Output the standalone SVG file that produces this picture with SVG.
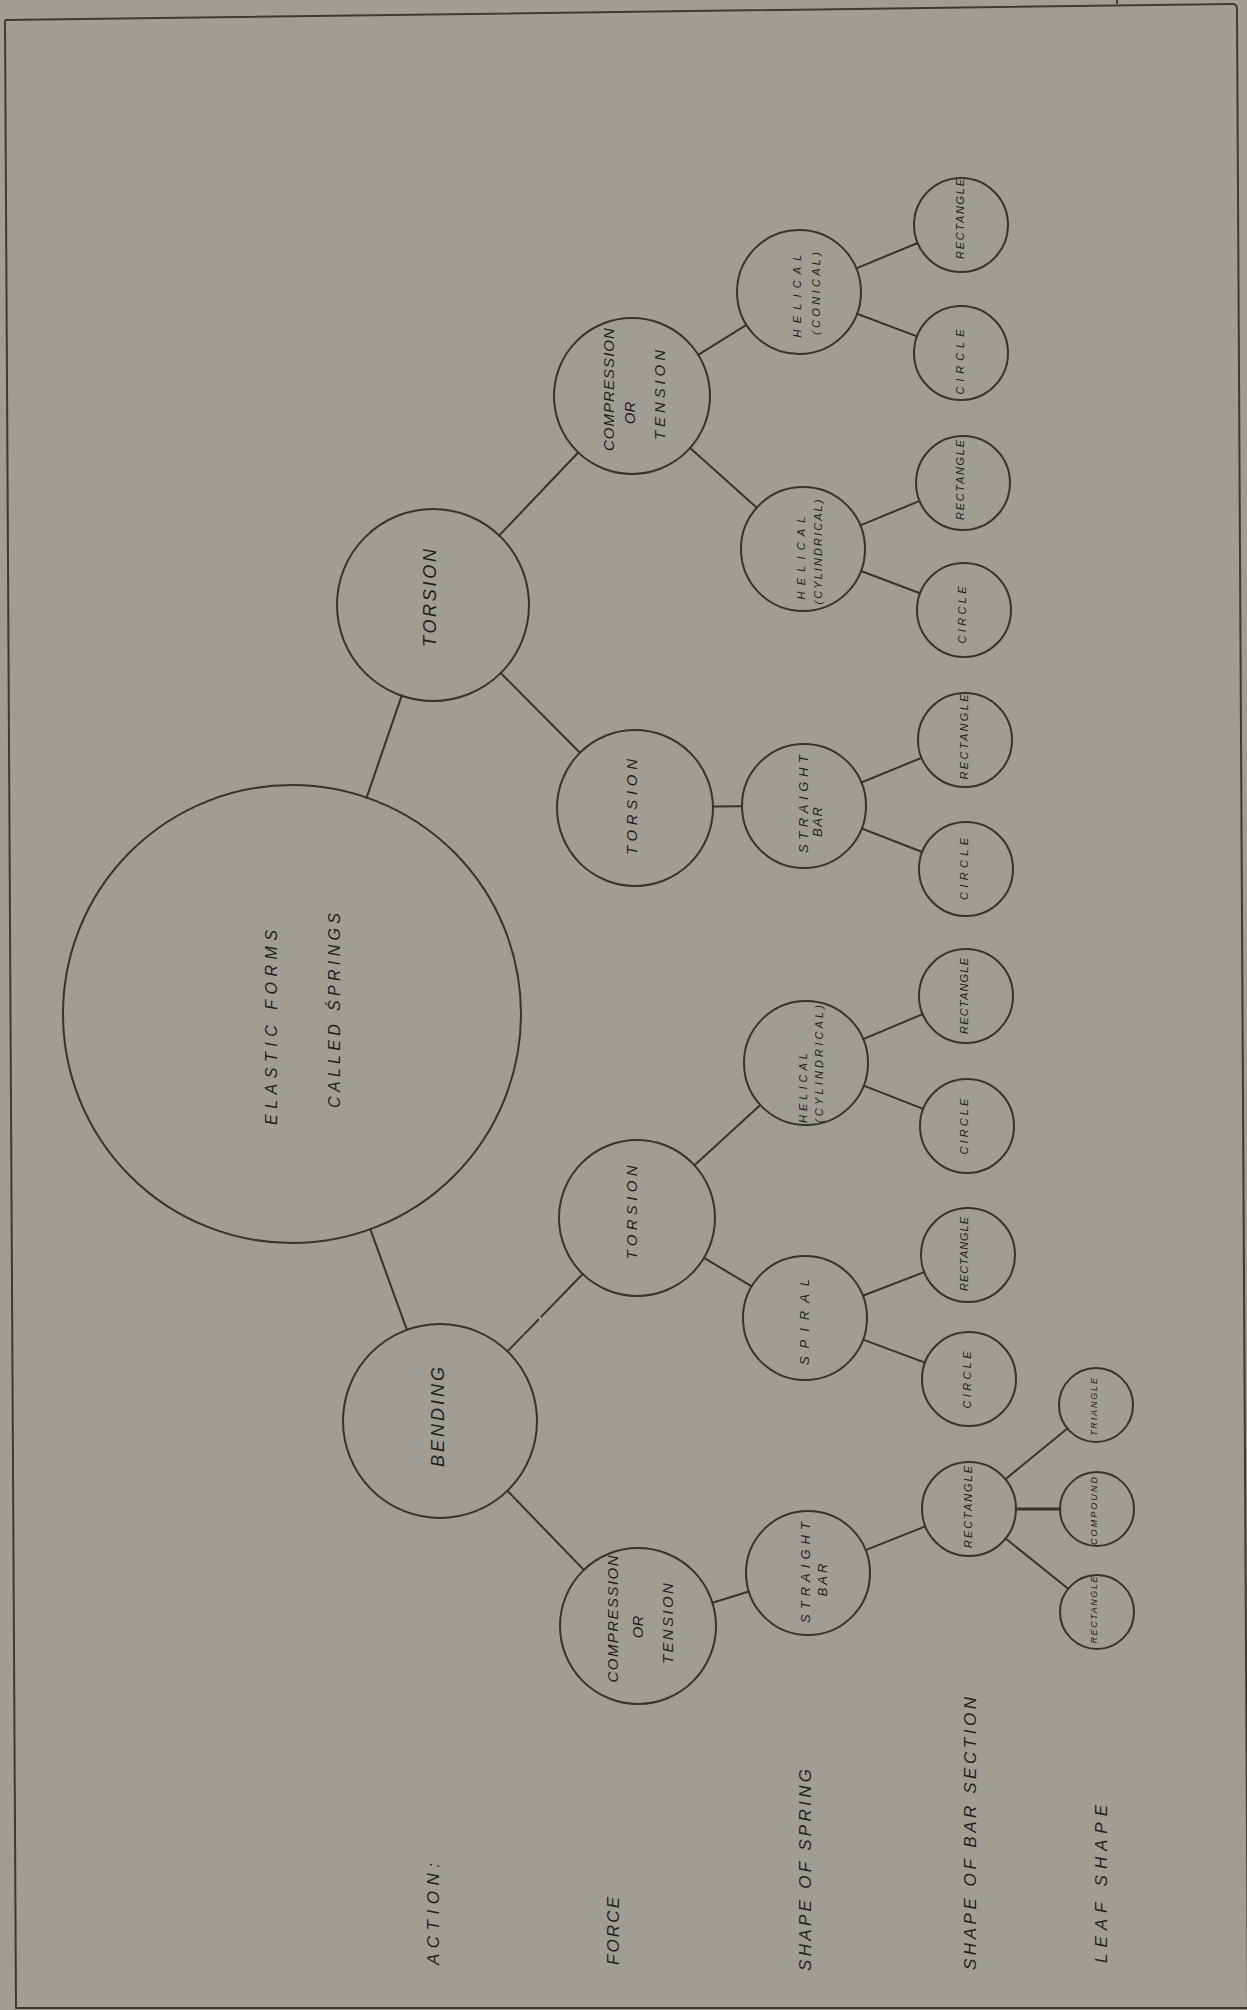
<svg xmlns="http://www.w3.org/2000/svg" width="1247" height="2010" viewBox="0 0 1247 2010">
<style>
.bg{fill:#a09d94}
.frame{fill:none;stroke:#3c3a36;stroke-width:2;stroke-linejoin:round}
.node{fill:none;stroke:#36342f;stroke-width:2}
.edge{fill:none;stroke:#36342f;stroke-width:2;stroke-linecap:round}
text{font-family:"Liberation Sans","DejaVu Sans",sans-serif;font-style:italic;fill:#1f1e1b}
.lbl{font-size:17px}
.root{font-size:16px}
.a{font-size:18px}
.f{font-size:15px}
.s{font-size:13px}
.h{font-size:11px}
.b{font-size:11px}
.l{font-size:9px}
.m{text-anchor:middle}
</style>
<rect class="bg" x="0" y="0" width="1247" height="2010"/>
<path class="frame" d="M5,20 L1233,4 Q1237,4 1237,9 L1248,2010"/>
<path class="frame" d="M5,20 L16,2008 L1247,2008"/>
<path class="frame" d="M1117,0 L1117,4"/>

<g id="connectors">
<line class="edge" x1="366.6" y1="797.6" x2="401.7" y2="695.7"/>
<line class="edge" x1="370.3" y1="1229.2" x2="406.9" y2="1329.8"/>
<line class="edge" x1="499.2" y1="535.5" x2="578.2" y2="452.5"/>
<line class="edge" x1="500.7" y1="673" x2="580" y2="752.7"/>
<path class="edge" d="M507.5,1351.4 L523.3,1335.1 M524.8,1333.6 L538.3,1319.7 M541.3,1316.6 L582.7,1274"/>
<line class="edge" x1="507.4" y1="1490.8" x2="583.8" y2="1569.9"/>
<line class="edge" x1="698.2" y1="354.8" x2="746.4" y2="324.8"/>
<line class="edge" x1="690.1" y1="448" x2="756.8" y2="507.7"/>
<line class="edge" x1="713" y1="806.5" x2="742" y2="806.2"/>
<line class="edge" x1="694.5" y1="1165.3" x2="760.3" y2="1104.9"/>
<line class="edge" x1="704" y1="1257.9" x2="751.7" y2="1286.3"/>
<line class="edge" x1="712.5" y1="1602.8" x2="748.8" y2="1591.5"/>
<line class="edge" x1="856.3" y1="268.3" x2="917.6" y2="243"/>
<line class="edge" x1="857" y1="313.8" x2="917" y2="336.4"/>
<line class="edge" x1="860.3" y1="525.4" x2="919.6" y2="500.9"/>
<line class="edge" x1="861" y1="571" x2="920" y2="593.3"/>
<line class="edge" x1="861.4" y1="782.5" x2="921.5" y2="757.8"/>
<line class="edge" x1="861.8" y1="828.5" x2="922.2" y2="852"/>
<line class="edge" x1="863.2" y1="1039.1" x2="922.7" y2="1014.1"/>
<line class="edge" x1="863.7" y1="1085.6" x2="923.2" y2="1108.9"/>
<line class="edge" x1="862.8" y1="1295.7" x2="924.2" y2="1272.1"/>
<line class="edge" x1="863.1" y1="1339.6" x2="925" y2="1362.6"/>
<line class="edge" x1="865.6" y1="1550.1" x2="925.3" y2="1526.4"/>
<line class="edge" x1="1005.4" y1="1479.2" x2="1067.4" y2="1428.4"/>
<line class="edge" x1="1016" y1="1509" x2="1060" y2="1509" style="stroke-width:3"/>
<line class="edge" x1="1005.6" y1="1538.5" x2="1068.2" y2="1588.8"/>
</g>

<g id="root"><circle class="node" cx="292" cy="1014" r="229"/>
<text class="root m" transform="translate(276.5,1027.5) rotate(-90)" textLength="195" lengthAdjust="spacing">ELASTIC FORMS</text>
<text class="root m" transform="translate(339.7,1010.5) rotate(-90)" textLength="195" lengthAdjust="spacing">CALLED ŚPRINGS</text></g>

<g id="torsion-action"><circle class="node" cx="433" cy="605" r="96"/>
<text class="a m" transform="translate(436,598) rotate(-90)" textLength="98" lengthAdjust="spacing">TORSION</text></g>
<g id="bending"><circle class="node" cx="440" cy="1421" r="97"/>
<text class="a m" transform="translate(444,1417) rotate(-90)" textLength="100" lengthAdjust="spacing">BENDING</text></g>

<g id="comp-tension-1"><circle class="node" cx="632" cy="396" r="78"/>
<text class="f m" transform="translate(613.8,389.6) rotate(-90)" textLength="123" lengthAdjust="spacing">COMPRESSION</text>
<text class="f m" transform="translate(635.4,413) rotate(-90)">OR</text>
<text class="f m" transform="translate(665.4,395) rotate(-90)" textLength="90" lengthAdjust="spacing">TENSION</text></g>
<g id="torsion-force-1"><circle class="node" cx="635" cy="808" r="78"/>
<text class="f m" transform="translate(637.4,807) rotate(-90)" textLength="96" lengthAdjust="spacing">TORSION</text></g>
<g id="torsion-force-2"><circle class="node" cx="637" cy="1218" r="78"/>
<text class="f m" transform="translate(637.4,1212.5) rotate(-90)" textLength="94" lengthAdjust="spacing">TORSION</text></g>
<g id="comp-tension-2"><circle class="node" cx="638" cy="1626" r="78"/>
<text class="f m" transform="translate(618.4,1619) rotate(-90)" textLength="127" lengthAdjust="spacing">COMPRESSION</text>
<text class="f m" transform="translate(643.4,1627) rotate(-90)">OR</text>
<text class="f m" transform="translate(673.4,1623.6) rotate(-90)" textLength="81" lengthAdjust="spacing">TENSION</text></g>

<g id="helical-conical"><circle class="node" cx="799" cy="292" r="62"/>
<text class="h m" transform="translate(801,296) rotate(-90)" textLength="83" lengthAdjust="spacing">HELICAL</text>
<text class="h m" transform="translate(820,293.5) rotate(-90)" textLength="83" lengthAdjust="spacing">(CONICAL)</text></g>
<g id="helical-cyl-1"><circle class="node" cx="803" cy="549" r="62"/>
<text class="h m" transform="translate(804.8,558) rotate(-90)" textLength="83" lengthAdjust="spacing">HELICAL</text>
<text class="h m" transform="translate(822,552) rotate(-90)" textLength="105" lengthAdjust="spacing">(CYLINDRICAL)</text></g>
<g id="straight-bar-1"><circle class="node" cx="804" cy="806" r="62"/>
<text class="s m" transform="translate(807.7,804) rotate(-90)" textLength="98" lengthAdjust="spacing">STRAIGHT</text>
<text class="s m" transform="translate(821.7,822) rotate(-90)" textLength="30" lengthAdjust="spacing">BAR</text></g>
<g id="helical-cyl-2"><circle class="node" cx="806" cy="1063" r="62"/>
<text class="h m" transform="translate(806.5,1088) rotate(-90)" textLength="70" lengthAdjust="spacing">HELICAL</text>
<text class="h m" transform="translate(823,1064) rotate(-90)" textLength="118" lengthAdjust="spacing">(CYLINDRICAL)</text></g>
<g id="spiral"><circle class="node" cx="805" cy="1318" r="62"/>
<text class="s m" transform="translate(808.7,1322) rotate(-90)" textLength="86" lengthAdjust="spacing">SPIRAL</text></g>
<g id="straight-bar-2"><circle class="node" cx="808" cy="1573" r="62"/>
<text class="s m" transform="translate(809.7,1572.5) rotate(-90)" textLength="101" lengthAdjust="spacing">STRAIGHT</text>
<text class="s m" transform="translate(826.7,1580) rotate(-90)" textLength="33" lengthAdjust="spacing">BAR</text></g>

<g id="rect-1"><circle class="node" cx="961" cy="225" r="47"/>
<text class="b m" transform="translate(963.9,219) rotate(-90)" textLength="80" lengthAdjust="spacing">RECTANGLE</text></g>
<g id="circle-1"><circle class="node" cx="961" cy="353" r="47"/>
<text class="b m" transform="translate(963.9,362) rotate(-90)" textLength="65" lengthAdjust="spacing">CIRCLE</text></g>
<g id="rect-2"><circle class="node" cx="963" cy="483" r="47"/>
<text class="b m" transform="translate(963.9,480) rotate(-90)" textLength="80" lengthAdjust="spacing">RECTANGLE</text></g>
<g id="circle-2"><circle class="node" cx="964" cy="610" r="47"/>
<text class="b m" transform="translate(965.6,615) rotate(-90)" textLength="57" lengthAdjust="spacing">CIRCLE</text></g>
<g id="rect-3"><circle class="node" cx="965" cy="740" r="47"/>
<text class="b m" transform="translate(967.9,737) rotate(-90)" textLength="85" lengthAdjust="spacing">RECTANGLE</text></g>
<g id="circle-3"><circle class="node" cx="966" cy="869" r="47"/>
<text class="b m" transform="translate(967.9,869) rotate(-90)" textLength="62" lengthAdjust="spacing">CIRCLE</text></g>
<g id="rect-4"><circle class="node" cx="966" cy="996" r="47"/>
<text class="b m" transform="translate(967.9,996) rotate(-90)" textLength="76" lengthAdjust="spacing">RECTANGLE</text></g>
<g id="circle-4"><circle class="node" cx="967" cy="1126" r="47"/>
<text class="b m" transform="translate(967.9,1126.6) rotate(-90)" textLength="56" lengthAdjust="spacing">CIRCLE</text></g>
<g id="rect-5"><circle class="node" cx="968" cy="1255" r="47"/>
<text class="b m" transform="translate(967.9,1254) rotate(-90)" textLength="74" lengthAdjust="spacing">RECTANGLE</text></g>
<g id="circle-5"><circle class="node" cx="969" cy="1379" r="47"/>
<text class="b m" transform="translate(970.9,1380) rotate(-90)" textLength="57" lengthAdjust="spacing">CIRCLE</text></g>
<g id="rect-6"><circle class="node" cx="969" cy="1509" r="47"/>
<text class="b m" transform="translate(971.9,1507) rotate(-90)" textLength="82" lengthAdjust="spacing">RECTANGLE</text></g>

<g id="triangle"><circle class="node" cx="1096" cy="1405" r="37"/>
<text class="l m" transform="translate(1097.2,1407) rotate(-90)" textLength="58" lengthAdjust="spacing">TRIANGLE</text></g>
<g id="compound"><circle class="node" cx="1097" cy="1509" r="37"/>
<text class="l m" transform="translate(1097.2,1511) rotate(-90)" textLength="68" lengthAdjust="spacing">COMPOUND</text></g>
<g id="rect-leaf"><circle class="node" cx="1097" cy="1612" r="37"/>
<text class="l m" transform="translate(1097.2,1610) rotate(-90)" textLength="67" lengthAdjust="spacing">RECTANGLE</text></g>

<g id="labels">
<text class="lbl" transform="translate(439,1965) rotate(-90)" textLength="102" lengthAdjust="spacing">ACTION:</text>
<text class="lbl" transform="translate(618.7,1965) rotate(-90)" textLength="68" lengthAdjust="spacing">FORCE</text>
<text class="lbl" transform="translate(810.6,1971) rotate(-90)" textLength="202" lengthAdjust="spacing">SHAPE OF SPRING</text>
<text class="lbl" transform="translate(976,1970) rotate(-90)" textLength="273" lengthAdjust="spacing">SHAPE OF BAR SECTION</text>
<text class="lbl" transform="translate(1107,1963) rotate(-90)" textLength="158" lengthAdjust="spacing">LEAF SHAPE</text>
</g>
</svg>
